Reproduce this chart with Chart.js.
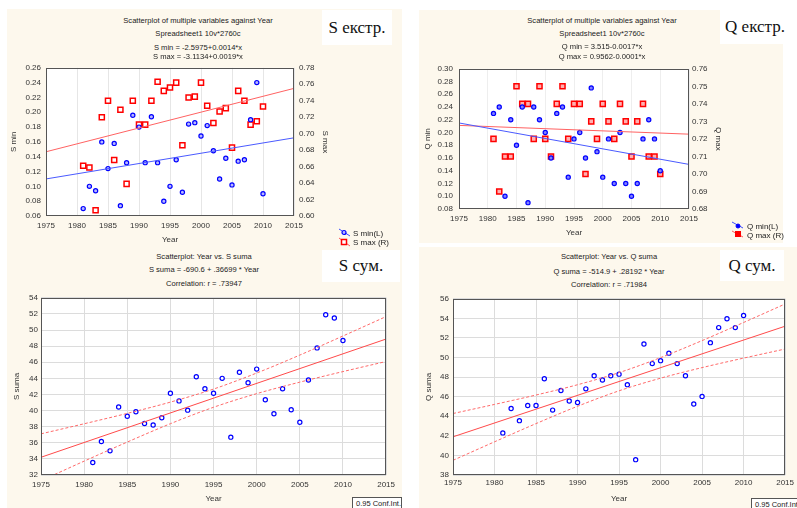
<!DOCTYPE html>
<html>
<head>
<meta charset="utf-8">
<script src="https://cdn.jsdelivr.net/npm/chart.js@4.4.1/dist/chart.umd.min.js"></script>
<style>
  body { margin: 0; width: 797px; height: 508px; position: relative; background: #fff; overflow: hidden; }
  .cream { position: absolute; background: #fdf8ed; }
  canvas { position: absolute; }
  .t { position: absolute; transform: translate(-50%, -50%); white-space: nowrap;
       font: 7.6px "Liberation Sans", Arial, sans-serif; color: #222; }
  .lt { position: absolute; transform: translateY(-50%); white-space: nowrap;
        font: 8px "Liberation Sans", Arial, sans-serif; color: #222; }
  .box { position: absolute; background: #fff; display: flex; align-items: center; justify-content: center;
         font: 17px "Liberation Serif", "Times New Roman", serif; color: #111; }
  .conf { position: absolute; background: #fff; border: 1px solid #555; box-sizing: border-box;
          font: 7.5px "Liberation Sans", Arial, sans-serif; color: #222; padding: 1px 0 0 3px; white-space: nowrap; }
</style>
</head>
<body>
<!-- panel backgrounds -->
<div class="cream" style="left:7px;top:9px;width:395px;height:499px"></div>
<div class="cream" style="left:419px;top:10px;width:364px;height:233px"></div>
<div class="cream" style="left:419px;top:247px;width:378px;height:261px"></div>

<canvas id="c1" width="340" height="190" style="left:0;top:58px"></canvas>
<canvas id="c2" width="326" height="186" style="left:404px;top:58px"></canvas>
<canvas id="c3" width="400" height="218" style="left:0;top:290px"></canvas>
<canvas id="c4" width="397" height="218" style="left:400px;top:290px"></canvas>

<!-- titles -->
<div class="t" style="left:198px;top:20px">Scatterplot of multiple variables against Year</div>
<div class="t" style="left:198px;top:33px">Spreadsheet1 10v*2760c</div>
<div class="t" style="left:198px;top:47px">S min = -2.5975+0.0014*x</div>
<div class="t" style="left:198px;top:56px">S max = -3.1134+0.0019*x</div>

<div class="t" style="left:602px;top:20px">Scatterplot of multiple variables against Year</div>
<div class="t" style="left:602px;top:33px">Spreadsheet1 10v*2760c</div>
<div class="t" style="left:602px;top:46px">Q min = 3.515-0.0017*x</div>
<div class="t" style="left:602px;top:56px">Q max = 0.9562-0.0001*x</div>

<div class="t" style="left:204px;top:256px">Scatterplot: Year vs. S suma</div>
<div class="t" style="left:204px;top:269px">S suma = -690.6 + .36699 * Year</div>
<div class="t" style="left:204px;top:283px">Correlation: r = .73947</div>

<div class="t" style="left:609px;top:256px">Scatterplot: Year vs. Q suma</div>
<div class="t" style="left:609px;top:271px">Q suma = -514.9 + .28192 * Year</div>
<div class="t" style="left:609px;top:284px">Correlation: r = .71984</div>

<!-- panel labels -->
<div class="box" style="left:322px;top:10px;width:70px;height:35px">S екстр.</div>
<div class="box" style="left:720px;top:10px;width:70px;height:34px">Q екстр.</div>
<div class="box" style="left:322px;top:250px;width:78px;height:32px">S сум.</div>
<div class="box" style="left:720px;top:250px;width:64px;height:31px">Q сум.</div>

<div class="conf" style="left:352px;top:497px;width:50px;height:14px">0.95 Conf.Int.</div>
<div class="conf" style="left:751px;top:498px;width:50px;height:14px">0.95 Conf.Int.</div>

<!-- legends for the top panels -->
<svg style="position:absolute;left:336px;top:226px" width="16" height="22">
  <line x1="3" y1="3" x2="14" y2="10" stroke="#3a4cff" stroke-width="1"/>
  <circle cx="8" cy="6.5" r="2" fill="#b8b8ff" stroke="#0000ff" stroke-width="1.2"/>
  <line x1="3" y1="12" x2="14" y2="20" stroke="#ff5a5a" stroke-width="1"/>
  <rect x="5.5" y="13.5" width="5" height="5" fill="#fff" stroke="#ff0000" stroke-width="1.5"/>
</svg>
<div class="lt" style="left:353px;top:233px">S min(L)</div>
<div class="lt" style="left:353px;top:242px">S max (R)</div>

<svg style="position:absolute;left:730px;top:219px" width="16" height="20">
  <line x1="2" y1="3" x2="13" y2="9" stroke="#3a4cff" stroke-width="1"/>
  <circle cx="8" cy="7" r="2" fill="#0000ff" stroke="#0000ff" stroke-width="1"/>
  <line x1="2" y1="12" x2="13" y2="18" stroke="#ff5a5a" stroke-width="1"/>
  <rect x="5.5" y="12.5" width="5" height="5" fill="#ff0000" stroke="#ff0000" stroke-width="1"/>
</svg>
<div class="lt" style="left:747px;top:226px">Q min(L)</div>
<div class="lt" style="left:747px;top:235px">Q max (R)</div>

<script>
// Years of observation
const years = [1981, 1982, 1983, 1984, 1985, 1986, 1987, 1988, 1989, 1990,
               1991, 1992, 1993, 1994, 1995, 1996, 1997, 1998, 1999, 2000,
               2001, 2002, 2003, 2004, 2005, 2006, 2007, 2008, 2009, 2010];

// S extremes
const sMin = [0.070, 0.100, 0.094, 0.160, 0.124, 0.158, 0.074, 0.132, 0.196, 0.180,
              0.132, 0.194, 0.132, 0.080, 0.100, 0.136, 0.092, 0.184, 0.186, 0.168,
              0.182, 0.148, 0.110, 0.138, 0.102, 0.134, 0.136, 0.190, 0.240, 0.090];
const sMax = [0.661, 0.659, 0.607, 0.720, 0.740, 0.668, 0.729, 0.639, 0.740, 0.711,
              0.711, 0.740, 0.763, 0.752, 0.756, 0.762, 0.686, 0.744, 0.745, 0.762,
              0.734, 0.713, 0.727, 0.731, 0.683, 0.752, 0.740, 0.711, 0.715, 0.733];

// Q extremes
const qMin = [0.23, 0.24, 0.10, 0.22, 0.18, 0.24, 0.09, 0.24, 0.22, 0.20,
              0.16, 0.23, 0.24, 0.13, 0.19, 0.20, 0.16, 0.27, 0.17, 0.13,
              0.19, 0.12, 0.20, 0.12, 0.10, 0.12, 0.19, 0.22, 0.19, 0.14];
const qMax = [0.72, 0.69, 0.71, 0.71, 0.75, 0.74, 0.74, 0.72, 0.75, 0.72,
              0.71, 0.74, 0.75, 0.72, 0.74, 0.74, 0.70, 0.73, 0.72, 0.74,
              0.73, 0.72, 0.74, 0.73, 0.71, 0.73, 0.74, 0.71, 0.71, 0.70];

// Sums
const sSum = [33.55, 36.15, 35.00, 40.45, 39.30, 39.85, 38.40, 38.20, 39.10, 42.15,
              41.20, 40.05, 44.20, 42.70, 42.15, 44.00, 36.70, 44.75, 43.45, 45.15,
              41.35, 39.60, 42.70, 40.10, 38.55, 43.80, 47.78, 51.90, 51.50, 48.70];
const qSum = [42.30, 44.80, 43.55, 45.10, 45.10, 47.84, 44.63, 46.63, 45.56, 45.40,
              46.80, 48.14, 47.70, 48.14, 48.30, 47.23, 39.57, 51.38, 49.38, 49.68,
              50.45, 49.38, 48.14, 45.26, 46.03, 51.52, 53.06, 53.96, 53.06, 54.29];

// Fitted lines (read at the axis ends)
const fitYears = [1975, 2015];
const sMinFit = [0.110, 0.1655];
const sMaxFit = [0.678, 0.755];
const qMinFit = [0.215, 0.150];
const qMaxFit = [0.7277, 0.7227];
const sSumFit = [34.2, 48.88];
const qSumFit = [41.9, 53.2];

// 0.95 confidence bands
const bandYears = [1975, 1980, 1985, 1990, 1995, 2000, 2005, 2010, 2015];
const sUpper = [37.11, 38.36, 39.65, 41.05, 42.67, 44.66, 46.89, 49.26, 51.67];
const sLower = [31.29, 33.72, 36.09, 38.37, 40.41, 42.10, 43.53, 44.84, 46.09];
const qUpper = [44.28, 45.21, 46.17, 47.22, 48.46, 49.99, 51.73, 53.58, 55.47];
const qLower = [39.50, 41.39, 43.25, 45.02, 46.60, 47.89, 48.97, 49.94, 50.87];

const FONT = { family: "'Liberation Sans', Arial, sans-serif", size: 8 };
const TXT = '#333';

const pts = (xs, ys) => xs.map((x, i) => ({ x: x, y: ys[i] }));

// White plot area + dark frame
const plotFrame = {
    id: 'plotFrame',
    beforeDraw: (chart) => {
        const { ctx, chartArea: a } = chart;
        ctx.save();
        ctx.fillStyle = '#ffffff';
        ctx.fillRect(a.left, a.top, a.right - a.left, a.bottom - a.top);
        ctx.restore();
    },
    afterDraw: (chart) => {
        const { ctx, chartArea: a } = chart;
        ctx.save();
        ctx.strokeStyle = '#555';
        ctx.lineWidth = 1;
        ctx.strokeRect(Math.round(a.left) + 0.5, Math.round(a.top) + 0.5,
                       Math.round(a.right - a.left) - 1, Math.round(a.bottom - a.top) - 1);
        ctx.restore();
    }
};

const yearAxis = (h, tickPad, titlePad, gridColor) => ({
    type: 'linear', min: 1975, max: 2015,
    ticks: { stepSize: 5, padding: tickPad, maxRotation: 0, autoSkip: false,
             color: TXT, font: FONT, callback: (v) => String(v) },
    grid: { color: gridColor, drawTicks: false },
    border: { display: false },
    title: { display: true, text: 'Year', color: TXT, font: FONT, padding: { top: 0, bottom: titlePad } },
    afterFit: (s) => { s.height = h; }
});

const valueAxis = (pos, min, max, step, dec, w, tickPad, label, titlePad, gridColor) => ({
    type: 'linear', position: pos, min: min, max: max,
    ticks: { stepSize: step, padding: tickPad, autoSkip: false, color: TXT, font: FONT,
             callback: (v) => v.toFixed(dec) },
    grid: { display: gridColor !== null, color: gridColor || '#fff', drawTicks: false },
    border: { display: false },
    title: { display: true, text: label, color: TXT, font: FONT, padding: { top: titlePad, bottom: 0 } },
    afterFit: (s) => { s.width = w; }
});

const baseOptions = (padding, scales) => ({
    responsive: false,
    animation: false,
    layout: { padding: padding },
    plugins: { legend: { display: false }, tooltip: { enabled: false } },
    scales: scales
});

const dotSet = (data, color, fill, axis) => ({
    data: data, yAxisID: axis, pointStyle: 'circle', pointRadius: 2.1,
    pointBorderWidth: 1.2, pointBorderColor: color, pointBackgroundColor: fill, showLine: false
});
const squareSet = (data, color, fill, axis) => ({
    data: data, yAxisID: axis, pointStyle: 'rect', pointRadius: 3.6,
    pointBorderWidth: 1.5, pointBorderColor: color, pointBackgroundColor: fill, showLine: false
});
const lineSet = (data, color, axis, dash) => ({
    data: data, yAxisID: axis, showLine: true, pointRadius: 0, borderColor: color,
    borderWidth: 1, borderDash: dash || [], cubicInterpolationMode: 'monotone', fill: false
});

// S extremes
new Chart(document.getElementById('c1'), {
    type: 'scatter',
    data: { datasets: [
        lineSet(pts(fitYears, sMinFit), '#4a5aff', 'y'),
        lineSet(pts(fitYears, sMaxFit), '#ff6262', 'y1'),
        dotSet(pts(years, sMin), '#0000ff', '#b8b8ff', 'y'),
        squareSet(pts(years, sMax), '#ff0000', '#ffffff', 'y1')
    ] },
    options: baseOptions({ top: 8, left: 0, right: 0, bottom: 0 }, {
        x: yearAxis(32, 5, 3, '#e6e6e6'),
        y: valueAxis('left', 0.06, 0.26, 0.02, 2, 46, 5, 'S min', 9, null),
        y1: valueAxis('right', 0.60, 0.78, 0.02, 2, 46, 5, 'S max', 10, null)
    }),
    plugins: [plotFrame]
});

// Q extremes
new Chart(document.getElementById('c2'), {
    type: 'scatter',
    data: { datasets: [
        lineSet(pts(fitYears, qMinFit), '#4a5aff', 'y'),
        lineSet(pts(fitYears, qMaxFit), '#ff6262', 'y1'),
        dotSet(pts(years, qMin), '#0000ff', '#8080ff', 'y'),
        squareSet(pts(years, qMax), '#ff0000', '#ffb0b0', 'y1')
    ] },
    options: baseOptions({ top: 7, left: 0, right: 0, bottom: 0 }, {
        x: yearAxis(35, 5, 6, '#eeeeee'),
        y: valueAxis('left', 0.08, 0.30, 0.02, 2, 55, 6, 'Q min', 19, null),
        y1: valueAxis('right', 0.68, 0.76, 0.01, 2, 41, 3, 'Q max', 7, null)
    }),
    plugins: [plotFrame]
});

// S sum with regression and confidence band
new Chart(document.getElementById('c3'), {
    type: 'scatter',
    data: { datasets: [
        lineSet(pts(bandYears, sUpper), '#ff6a6a', 'y', [3, 2]),
        lineSet(pts(bandYears, sLower), '#ff6a6a', 'y', [3, 2]),
        lineSet(pts(fitYears, sSumFit), '#ff4a4a', 'y'),
        dotSet(pts(years, sSum), '#0000ff', '#ffffff', 'y')
    ] },
    options: baseOptions({ top: 5, left: 0, right: 12, bottom: 0 }, {
        x: yearAxis(33, 5, 4, '#dcdcdc'),
        y: valueAxis('left', 32, 54, 2, 0, 41, 3, 'S suma', 12, '#dcdcdc')
    }),
    plugins: [plotFrame]
});

// Q sum with regression and confidence band
new Chart(document.getElementById('c4'), {
    type: 'scatter',
    data: { datasets: [
        lineSet(pts(bandYears, qUpper), '#ff6a6a', 'y', [3, 2]),
        lineSet(pts(bandYears, qLower), '#ff6a6a', 'y', [3, 2]),
        lineSet(pts(fitYears, qSumFit), '#ff4a4a', 'y'),
        dotSet(pts(years, qSum), '#0000ff', '#ffffff', 'y')
    ] },
    options: baseOptions({ top: 6, left: 0, right: 9, bottom: 0 }, {
        x: yearAxis(33, 3, 4, '#dcdcdc'),
        y: valueAxis('left', 38, 56, 2, 0, 53, 4, 'Q suma', 24, '#dcdcdc')
    }),
    plugins: [plotFrame]
});
</script>
</body>
</html>
